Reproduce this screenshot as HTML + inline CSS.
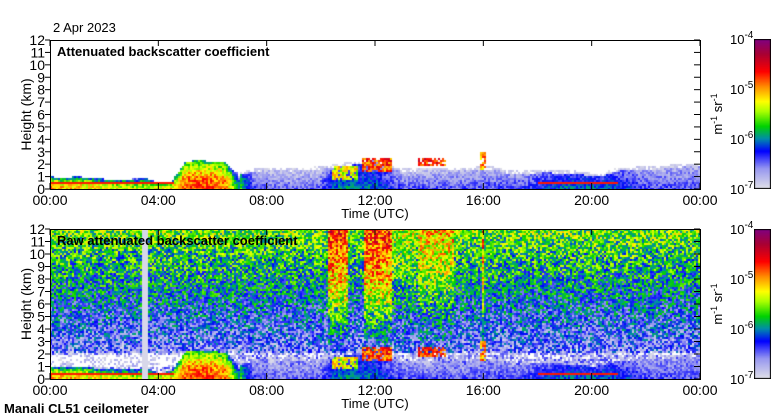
<!DOCTYPE html>
<html><head><meta charset="utf-8"><style>
body{margin:0;background:#fff;width:780px;height:420px;overflow:hidden;position:relative;font-family:"Liberation Sans",sans-serif}
canvas{position:absolute}
svg{position:absolute;left:0;top:0}
</style></head><body>
<canvas id="c1" width="650" height="149" style="left:50px;top:40px"></canvas>
<canvas id="c2" width="650" height="150" style="left:50px;top:229px"></canvas>
<canvas id="cb1" width="17" height="150" style="left:754px;top:39px"></canvas>
<canvas id="cb2" width="17" height="150" style="left:754px;top:229px"></canvas>
<svg id="ov" width="780" height="420"></svg>
<script>
// half-hourly data (00:00..24:00 UTC)
const layerTop=[1.0,0.9,1.0,0.9,0.8,0.8,0.8,0.9,0.5,0.6,2.2,2.3,2.2,2.1,1.1,1.4,1.5,1.5,1.5,1.5,1.6,1.7,1.9,2.0,2.3,1.8,1.4,1.4,1.5,1.5,1.5,1.5,1.6,1.5,1.2,1.2,1.3,1.3,1.2,1.2,1.0,1.1,1.5,1.5,1.6,1.6,1.7,1.8,1.8];
const layerLevel=[-5.0,-5.1,-5.1,-5.2,-5.3,-5.3,-5.4,-5.4,-5.3,-5.2,-4.8,-4.8,-4.8,-4.9,-6.0,-6.7,-6.85,-6.85,-6.85,-6.85,-6.8,-6.4,-6.3,-6.4,-6.4,-6.6,-6.8,-6.8,-6.8,-6.8,-6.8,-6.8,-6.75,-6.75,-6.7,-6.7,-6.6,-6.5,-6.4,-6.4,-6.4,-6.4,-6.5,-6.6,-6.75,-6.75,-6.75,-6.75,-6.75];
// clouds: start h, end h, base km, top km, level
const cloudStart=[10.4,11.5,13.6,15.9];
const cloudEnd=[11.4,12.6,14.6,16.1];
const cloudBase=[0.8,1.4,1.8,1.5];
const cloudTop=[1.8,2.5,2.5,3.0];
const cloudLevel=[-5.4,-4.9,-4.8,-5.1];
// raw precipitation / fall-streak columns
const colStart=[10.3,11.6,12.6,13.6,15.95];
const colEnd=[11.0,12.6,13.5,14.9,16.05];
const colBoost=[0.85,0.85,0.2,0.45,0.8];
const gapStart=3.4, gapEnd=3.6;

const stops=[[-7,[224,224,232]],[-6.6,[150,150,240]],[-6.25,[0,0,255]],[-6.0,[0,140,170]],[-5.75,[0,210,0]],[-5.45,[170,255,0]],[-5.25,[255,255,0]],[-4.95,[255,140,0]],[-4.65,[255,0,0]],[-4.3,[170,0,50]],[-4,[128,0,128]]];
function cmap(v){
  if(v<-7)return null;
  if(v>=-4)return stops[stops.length-1][1];
  for(let i=0;i<stops.length-1;i++){const a=stops[i],b=stops[i+1];
    if(v>=a[0]&&v<=b[0]){const f=(v-a[0])/(b[0]-a[0]);return a[1].map((c,k)=>Math.round(c+(b[1][k]-c)*f));}}
  return stops[0][1];
}
function hash(i,j){let n=(i*374761393+j*668265263)|0;n=(n^(n>>>13))*1274126177|0;n=n^(n>>>16);return ((n>>>0)%1000)/1000-0.5;}
function interp(arr,t){const s=t*2;const i=Math.min(Math.floor(s),arr.length-2);const f=s-i;return arr[i]*(1-f)+arr[i+1]*f;}
function topVal(t,h,i,j){
  let v=-8;const n=hash(i,j);
  const top=interp(layerTop,t),lev=interp(layerLevel,t);
  if(h<top){
    if(lev<-6)v=lev+0.35*(1-h/top)+n*0.4;
    else v=lev-1.0*Math.pow(h/top,2)+n*0.6;
  }
  else if(h<top+0.25&&t>7)v=-6.95+n*0.3;
  if((t<4.6||(t>18&&t<21))&&Math.abs(h-0.45)<0.1)v=-4.7;
  for(let k=0;k<cloudStart.length;k++)
    if(t>=cloudStart[k]&&t<=cloudEnd[k]&&h>=cloudBase[k]&&h<=cloudTop[k]&&n>-0.3)v=Math.max(v,cloudLevel[k]+n*0.9);
  return v;
}
function rawVal(t,h,i,j){
  const n=hash(i+7,j+13);
  let bg;
  if(h>2)bg=-6.55+0.1*(h-2);else bg=-6.85;
  if(h>0.9&&h<2&&t<5)bg=-7.15;
  for(let k=0;k<colStart.length;k++)if(t>=colStart[k]&&t<=colEnd[k]&&h>1.5)bg+=colBoost[k]*Math.min(1,(h-1.5)/6);
  let v=bg+n*1.0;
  v=Math.max(v,topVal(t,h,i,j));
  if(t>=gapStart&&t<=gapEnd)v=-6.95;
  return v;
}
function draw(id,fn,H){
  const c=document.getElementById(id),ctx=c.getContext('2d'),img=ctx.createImageData(650,H);
  for(let y=0;y<H;y++)for(let x=0;x<650;x++){
    const i=x>>1,j=y>>1;const t=(i*2+1)/650*24,h=(H-(j*2+1))/H*12;
    const col=cmap(fn(t,h,i,j));const p=(y*650+x)*4;
    if(col){img.data[p]=col[0];img.data[p+1]=col[1];img.data[p+2]=col[2];}else{img.data[p]=img.data[p+1]=img.data[p+2]=255;}
    img.data[p+3]=255;}
  ctx.putImageData(img,0,0);
}
draw('c1',topVal,149);draw('c2',rawVal,150);
['cb1','cb2'].forEach(id=>{const ctx=document.getElementById(id).getContext('2d');
  for(let y=0;y<150;y++){const c=cmap(-4-3*y/149);ctx.fillStyle=`rgb(${c})`;ctx.fillRect(0,y,17,1);}
  ctx.strokeStyle='#000';ctx.strokeRect(0.5,0.5,16,149);});

const yTicks=[0,1,2,3,4,5,6,7,8,9,10,11,12];
const xTickLabels=['00:00','04:00','08:00','12:00','16:00','20:00','00:00'];
const cbExp=['-4','-5','-6','-7'];
const ov=document.getElementById('ov');const NS='http://www.w3.org/2000/svg';
function el(tag,attrs,txt){const e=document.createElementNS(NS,tag);for(const k in attrs)e.setAttribute(k,attrs[k]);if(txt!==undefined)e.textContent=txt;ov.appendChild(e);return e;}
const panels=[{y0:40,y1:189,title:'Attenuated backscatter coefficient',cb:39},{y0:229,y1:379,title:'Raw attenuated backscatter coefficient',cb:229}];
panels.forEach((p,pi)=>{
  const sy=h=>p.y1-(p.y1-p.y0)*h/12, sx=k=>50+650*k/6;
  const f=el('rect',{x:50.5,y:p.y0+0.5,width:650,height:p.y1-p.y0,fill:'none',stroke:'#000'});
  
  yTicks.forEach(h=>{const y=sy(h);
    el('line',{x1:45,x2:50,y1:y,y2:y,stroke:'#000'});
    el('line',{x1:694,x2:700,y1:y,y2:y,stroke:'#000'});
    const t=el('text',{x:45,y:y+5,'text-anchor':'end','font-size':14},h);
    });
  xTickLabels.forEach((l,k)=>{const x=sx(k);
    el('line',{x1:x,x2:x,y1:p.y1-6,y2:p.y1,stroke:'#000'});
    el('line',{x1:x,x2:x,y1:p.y0,y2:p.y0+6,stroke:'#000'});
    const t=el('text',{x:x,y:p.y1+16,'text-anchor':'middle','font-size':14},l);
    });
  const xt=el('text',{x:375,y:p.y1+29,'text-anchor':'middle','font-size':13},'Time (UTC)');
  
  const cy=(p.y0+p.y1)/2;
  const yt=el('text',{x:31,y:cy,'text-anchor':'middle','font-size':14,transform:`rotate(-90 31 ${cy})`},'Height (km)');
  
  const tt=el('text',{x:57,y:p.y0+16,'font-size':13,'font-weight':'bold'},p.title);
  
  cbExp.forEach((e,k)=>{const y=p.cb+k*50;
    const t=el('text',{x:730,y:y+5,'font-size':13});t.textContent='10';
    const s=document.createElementNS(NS,'tspan');s.setAttribute('dy','-6');s.setAttribute('font-size','10');s.textContent=e;t.appendChild(s);
    });
  const ux=722,uy=p.cb+75;
  const u=el('text',{x:ux,y:uy,'text-anchor':'middle','font-size':13,transform:`rotate(-90 ${ux} ${uy})`});
  u.innerHTML='m<tspan dy="-5" font-size="9">-1</tspan><tspan dy="5"> sr</tspan><tspan dy="-5" font-size="9">-1</tspan>';
  
});
const d=el('text',{x:53,y:32,'font-size':13},'2 Apr 2023');
const m=el('text',{x:4,y:413,'font-size':13,'font-weight':'bold'},'Manali CL51 ceilometer');
</script>
</body></html>
